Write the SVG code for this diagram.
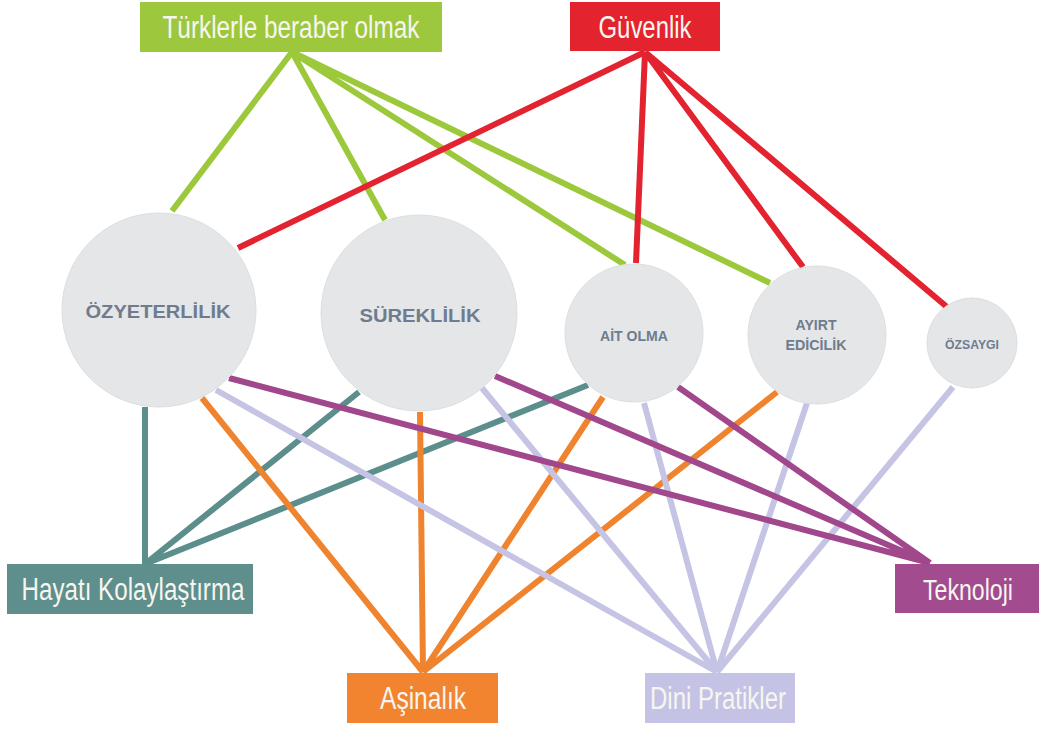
<svg xmlns="http://www.w3.org/2000/svg" width="1040" height="729" viewBox="0 0 1040 729">
<style>
.c{fill:none;stroke-width:6;stroke-linecap:butt}
.g{stroke:#9cc83b}.r{stroke:#e3232f}.t{stroke:#5c8e8b}.o{stroke:#f0832e}.l{stroke:#c5c4e4}.p{stroke:#a1478c}
.node circle{fill:#e4e6e8;stroke:#dcdfe2;stroke-width:1}
.ct{font-family:"Liberation Sans Narrow","Liberation Sans",Arial,sans-serif;font-weight:bold;fill:#6f7c8e;text-anchor:middle}
.bt{font-family:"Liberation Sans Narrow","Liberation Sans",Arial,sans-serif;fill:#f6f6f0;text-anchor:middle}
</style>
<rect width="1040" height="729" fill="#ffffff"/>
<g id="connectors">
<path class="c g" d="M292 52L172 211M292 52L385 220M292 52L625 265M292 52L770 283"/>
<path class="c r" d="M645 52L238 248M645 52L636 263M645 52L803 267M645 52L947 307"/>
<path class="c t" d="M145 564L145 407M145 564L359 392M145 564L588 385"/>
<path class="c o" d="M423 672L202 398M423 672L420 412M423 672L603 397M423 672L777 392"/>
<path class="c l" d="M717 672L216 390M717 672L482 388M717 672L644 403M717 672L807 403M717 672L953 387"/>
<path class="c p" d="M930 563L229 378M930 563L495 376M930 563L678 387"/>
</g>
<g id="ozyeterlilik" class="node"><circle cx="159" cy="310" r="97"/><text class="ct" x="158" y="318" font-size="19" textLength="145" lengthAdjust="spacingAndGlyphs">ÖZYETERLİLİK</text></g>
<g id="sureklilik" class="node"><circle cx="419" cy="313" r="98"/><text class="ct" x="420" y="322" font-size="19" textLength="121" lengthAdjust="spacingAndGlyphs">SÜREKLİLİK</text></g>
<g id="ait-olma" class="node"><circle cx="634" cy="333" r="69"/><text class="ct" x="634" y="341" font-size="15" textLength="68" lengthAdjust="spacingAndGlyphs">AİT OLMA</text></g>
<g id="ayirt-edicilik" class="node"><circle cx="817" cy="335" r="69"/><text class="ct" x="816" y="330" font-size="15" textLength="41" lengthAdjust="spacingAndGlyphs">AYIRT</text><text class="ct" x="816" y="350" font-size="15" textLength="61" lengthAdjust="spacingAndGlyphs">EDİCİLİK</text></g>
<g id="ozsaygi" class="node"><circle cx="972" cy="343" r="45"/><text class="ct" x="972" y="349" font-size="12" textLength="54" lengthAdjust="spacingAndGlyphs">ÖZSAYGI</text></g>
<g id="turklerle" class="box"><rect x="140" y="2" width="302" height="50" fill="#9dc73d"/><text class="bt" x="291" y="38" font-size="31" textLength="257" lengthAdjust="spacingAndGlyphs">Türklerle beraber olmak</text></g>
<g id="guvenlik" class="box"><rect x="570" y="2" width="150" height="49" fill="#e3242f"/><text class="bt" x="645" y="38" font-size="31" textLength="93" lengthAdjust="spacingAndGlyphs">Güvenlik</text></g>
<g id="hayati" class="box"><rect x="7" y="564" width="246" height="50" fill="#5e8f8c"/><text class="bt" x="133" y="600" font-size="31" textLength="223" lengthAdjust="spacingAndGlyphs">Hayatı Kolaylaştırma</text></g>
<g id="asinalik" class="box"><rect x="347" y="673" width="151" height="50" fill="#f28430"/><text class="bt" x="423" y="709" font-size="31" textLength="86" lengthAdjust="spacingAndGlyphs">Aşinalık</text></g>
<g id="dini" class="box"><rect x="645" y="673" width="150" height="50" fill="#c5c3e5"/><text class="bt" x="718" y="709" font-size="31" textLength="136" lengthAdjust="spacingAndGlyphs">Dini Pratikler</text></g>
<g id="teknoloji" class="box"><rect x="895" y="564" width="144" height="49" fill="#a34b8f"/><text class="bt" x="968" y="600" font-size="30" textLength="90" lengthAdjust="spacingAndGlyphs">Teknoloji</text></g>
</svg>
